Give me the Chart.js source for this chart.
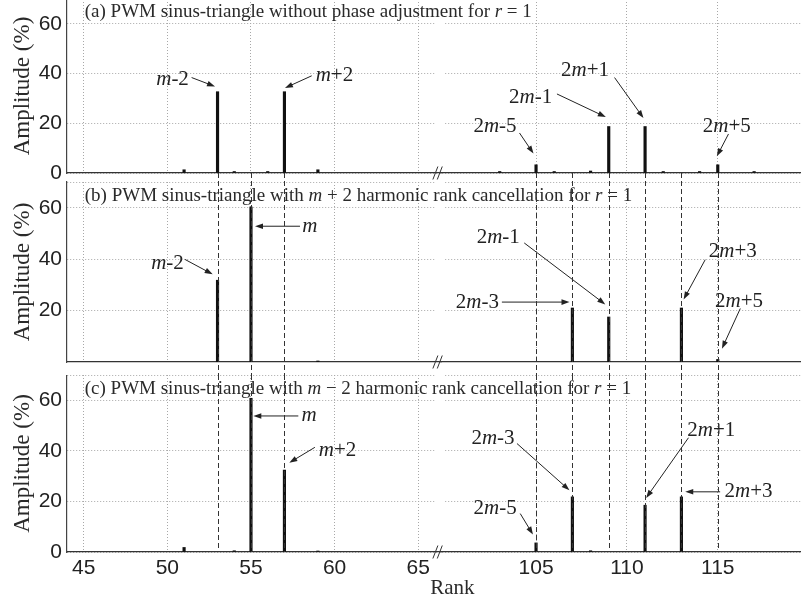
<!DOCTYPE html>
<html>
<head>
<meta charset="utf-8">
<script src="https://cdn.jsdelivr.net/npm/chart.js@4.4.1/dist/chart.umd.min.js"></script>
<style>
  html, body { margin: 0; padding: 0; background: #fff; overflow: hidden; }
  #wrap { position: relative; width: 801px; height: 604px; }
  canvas { position: absolute; left: 0; }
</style>
</head>
<body>
<div id="wrap">
  <canvas id="pa" width="801" height="190" style="top:-1px"></canvas>
  <canvas id="pb" width="801" height="202" style="top:173px"></canvas>
  <canvas id="pc" width="801" height="229" style="top:375px"></canvas>
</div>
<script>
// harmonic spectra, amplitude in % of fundamental
const ranksA_left = [51, 53, 54, 56, 57, 59];
const ampsA_left = [1.3, 32.7, 0.6, 0.6, 32.7, 1.3];
const ranksA_right = [103, 105, 106, 108, 109, 111, 112, 114, 115, 117];
const ampsA_right = [0.6, 3.3, 0.6, 0.8, 18.7, 18.7, 0.6, 0.6, 3.3, 0.6];

const ranksB_left = [53, 55, 59];
const ampsB_left = [31.8, 60.3, 0.4];
const ranksB_right = [107, 109, 113, 115];
const ampsB_right = [21.0, 17.5, 21.0, 1.0];

const ranksC_left = [51, 54, 55, 57, 59];
const ampsC_left = [1.8, 0.5, 60.8, 32.4, 0.4];
const ranksC_right = [105, 107, 108, 111, 113];
const ampsC_right = [3.6, 21.8, 0.5, 18.5, 21.8];

// dashed guide ranks
const guideLeft = [53, 55, 57];
const guideRight = [105, 107, 109, 111, 113, 115];

// tick labels
const leftTicks = [45, 50, 55, 60, 65];
const rightTicks = [105, 110, 115];
const yTicksA = [0, 20, 40, 60, 70];
const yTicksB = [20, 40, 60, 70];
const yTicksC = [0, 20, 40, 60, 70];

const titleA = '(a) PWM sinus-triangle without phase adjustment for *r* = 1';
const titleB = '(b) PWM sinus-triangle with *m* + 2 harmonic rank cancellation for *r* = 1';
const titleC = '(c) PWM sinus-triangle with *m* \u2212 2 harmonic rank cancellation for *r* = 1';

// annotation labels: text centre (tx,ty), arrow from (ax,ay) to (bx,by), in data units
const notesA = [
  {t: '*m*-2', s: 'l', tx: 50.31, ty: 37.5, ax: 51.45, ay: 38.4, bx: 52.85, by: 34.8},
  {t: '*m*+2', s: 'l', tx: 59.99, ty: 39.1, ax: 58.63, ay: 39.1, bx: 57.03, by: 34.2},
  {t: '2*m*-5', s: 'r', tx: 102.74, ty: 18.7, ax: 104.09, ay: 16.1, bx: 104.86, by: 7.8},
  {t: '2*m*-1', s: 'r', tx: 104.70, ty: 30.5, ax: 106.15, ay: 31.8, bx: 108.84, by: 22.5},
  {t: '2*m*+1', s: 'r', tx: 107.70, ty: 41.1, ax: 109.32, ay: 38.4, bx: 110.91, by: 22.1},
  {t: '2*m*+5', s: 'r', tx: 115.50, ty: 18.7, ax: 115.59, ay: 15.7, bx: 114.95, by: 6.7}
];
const notesB = [
  {t: '*m*-2', s: 'l', tx: 50.01, ty: 38.3, ax: 51.05, ay: 39.9, bx: 52.71, by: 34.1},
  {t: '*m*', s: 'l', tx: 58.52, ty: 52.6, ax: 57.93, ay: 52.8, bx: 55.24, by: 52.8},
  {t: '2*m*-3', s: 'r', tx: 101.77, ty: 23.3, ax: 103.12, ay: 23.3, bx: 106.84, by: 23.3},
  {t: '2*m*-1', s: 'r', tx: 102.92, ty: 48.4, ax: 104.35, ay: 46.3, bx: 108.81, by: 22.4},
  {t: '2*m*+3', s: 'r', tx: 115.83, ty: 42.8, ax: 114.31, ay: 39.8, bx: 113.12, by: 24.3},
  {t: '2*m*+5', s: 'r', tx: 116.17, ty: 23.7, ax: 116.24, ay: 20.8, bx: 115.23, by: 5.2}
];
const notesC = [
  {t: '*m*', s: 'l', tx: 58.47, ty: 53.8, ax: 57.83, ay: 53.8, bx: 55.14, by: 53.8},
  {t: '*m*+2', s: 'l', tx: 60.17, ty: 40.3, ax: 58.82, ay: 41.4, bx: 57.29, by: 35.3},
  {t: '2*m*-3', s: 'r', tx: 102.63, ty: 44.9, ax: 103.95, ay: 42.9, bx: 106.84, by: 24.4},
  {t: '2*m*-5', s: 'r', tx: 102.75, ty: 17.2, ax: 104.13, ay: 15.2, bx: 104.83, by: 6.9},
  {t: '2*m*+1', s: 'r', tx: 114.64, ty: 48.2, ax: 113.39, ay: 45.2, bx: 111.06, by: 21.4},
  {t: '2*m*+3', s: 'r', tx: 116.69, ty: 23.8, ax: 115.13, ay: 23.8, bx: 113.21, by: 23.8}
];

const SERIF = '"Liberation Serif", "Times New Roman", serif';
const SANS = '"Liberation Sans", Arial, sans-serif';

// draw text where *...* parts are italic
function richText(ctx, str, x, y, size, align) {
  const parts = str.split('*');
  const fonts = parts.map((p, i) => (i % 2 ? 'italic ' : '') + size + 'px ' + SERIF);
  let w = 0;
  parts.forEach((p, i) => { ctx.font = fonts[i]; w += ctx.measureText(p).width; });
  let cx = align === 'center' ? x - w / 2 : x;
  ctx.textAlign = 'left';
  ctx.textBaseline = 'middle';
  parts.forEach((p, i) => {
    ctx.font = fonts[i];
    ctx.fillText(p, cx, y);
    cx += ctx.measureText(p).width;
  });
}

function arrow(ctx, x1, y1, x2, y2) {
  const a = Math.atan2(y2 - y1, x2 - x1), L = 8, W = 2.8;
  const c = Math.cos(a), s = Math.sin(a);
  ctx.beginPath();
  ctx.moveTo(x1, y1);
  ctx.lineTo(x2 - L * 0.7 * c, y2 - L * 0.7 * s);
  ctx.stroke();
  ctx.beginPath();
  ctx.moveTo(x2, y2);
  ctx.lineTo(x2 - L * c + W * s, y2 - L * s - W * c);
  ctx.lineTo(x2 - L * c - W * s, y2 - L * s + W * c);
  ctx.closePath();
  ctx.fill();
}

const panelDecor = {
  id: 'panelDecor',
  beforeDatasetsDraw(chart) {
    // axis break: clear grid between the two rank ranges
    const {ctx, chartArea: ca, scales} = chart;
    const x0 = scales.xl.getPixelForValue(66), x1 = scales.xr.getPixelForValue(100);
    ctx.save();
    ctx.fillStyle = '#fff';
    ctx.fillRect(x0 + 1, ca.top - 1, x1 - x0 - 2, ca.bottom - ca.top);
    ctx.restore();
  },
  afterDatasetsDraw(chart, args, o) {
    const {ctx, chartArea: ca, scales} = chart;
    const xl = scales.xl, xr = scales.xr, y = scales.y;
    const X = (s, v) => (s === 'l' ? xl : xr).getPixelForValue(v);
    ctx.save();
    ctx.fillStyle = '#2a2a2a';
    richText(ctx, o.title, xl.getPixelForValue(45) + 1, y.getPixelForValue(64.6), 19, 'left');

    ctx.strokeStyle = '#222';
    ctx.fillStyle = '#222';
    ctx.lineWidth = 1;
    o.notes.forEach(n => {
      richText(ctx, n.t, X(n.s, n.tx), y.getPixelForValue(n.ty), 21, 'center');
      arrow(ctx, X(n.s, n.ax), y.getPixelForValue(n.ay), X(n.s, n.bx), y.getPixelForValue(n.by));
    });

    if (o.guides !== 'none') {
      const y0 = 0;
      const y1 = o.guides === 'above' ? ca.bottom : chart.height;
      ctx.strokeStyle = '#333';
      ctx.setLineDash([5, 3]);
      const lines = guideLeft.map(r => xl.getPixelForValue(r)).concat(guideRight.map(r => xr.getPixelForValue(r)));
      lines.forEach(px => {
        ctx.beginPath();
        ctx.moveTo(Math.round(px) + 0.5, y0);
        ctx.lineTo(Math.round(px) + 0.5, y1);
        ctx.stroke();
      });
      ctx.setLineDash([]);
    }

    // "//" break mark on the rank axis
    const gx = (xl.getPixelForValue(66) + xr.getPixelForValue(100)) / 2 - 2.5;
    ctx.strokeStyle = '#333';
    [-2.2, 2.2].forEach(d => {
      ctx.beginPath();
      ctx.moveTo(gx + d - 2.5, ca.bottom + 6.5);
      ctx.lineTo(gx + d + 2.5, ca.bottom - 6.5);
      ctx.stroke();
    });

    if (o.rank) {
      ctx.fillStyle = '#2a2a2a';
      richText(ctx, 'Rank', xr.getPixelForValue(100.4), ca.bottom + 36, 21, 'center');
    }
    ctx.restore();
  }
};

function xScale(min, max, ticks, weight, showLabels) {
  return {
    type: 'linear', position: 'bottom', stack: 'rank', stackWeight: weight,
    min: min, max: max, offset: false,
    afterBuildTicks: s => { s.ticks = ticks.map(v => ({value: v})); },
    afterFit: s => { s.height = showLabels ? 30 : 0; s.paddingLeft = 0; s.paddingRight = 0; },
    grid: {color: '#a8a8a8', lineWidth: 1, drawTicks: false, offset: false},
    border: {color: '#333', width: 1.3, dash: [1, 2]},
    ticks: {display: showLabels, autoSkip: false, maxRotation: 0, padding: 4,
      color: '#222', font: {family: SANS, size: 21}}
  };
}

function makePanel(id, p) {
  return new Chart(document.getElementById(id), {
    type: 'bar',
    data: {
      datasets: [
        {data: p.lr.map((r, i) => ({x: r, y: p.la[i]})), xAxisID: 'xl',
          backgroundColor: '#111', barThickness: 2.5, grouped: false},
        {data: p.rr.map((r, i) => ({x: r, y: p.ra[i]})), xAxisID: 'xr',
          backgroundColor: '#111', barThickness: 2.5, grouped: false}
      ]
    },
    options: {
      responsive: false,
      animation: false,
      events: [],
      layout: {padding: {top: p.top, bottom: p.bottom, left: 0, right: 0}},
      plugins: {
        legend: {display: false},
        tooltip: {enabled: false},
        panelDecor: {title: p.title, notes: p.notes, guides: p.guides, rank: p.rank}
      },
      scales: {
        xl: xScale(44, 66.36, leftTicks, 374, p.rank),
        xr: xScale(99.77, 119.58, rightTicks, 360, p.rank),
        y: {
          position: 'left', min: 0, max: 70,
          afterBuildTicks: s => { s.ticks = p.yt.map(v => ({value: v})); },
          afterFit: s => { s.width = 67; s.paddingTop = 0; s.paddingBottom = 0; },
          grid: {color: '#a8a8a8', lineWidth: 1, drawTicks: false},
          border: {color: '#444', width: 1.2, dash: [1, 2]},
          ticks: {padding: 5, color: '#222', font: {family: SANS, size: 21},
            callback: v => v === 70 ? '' : String(v)},
          title: {display: true, text: 'Amplitude (%)', color: '#2a2a2a',
            font: {family: SERIF, size: 23}, padding: {top: 9, bottom: 0}}
        }
      }
    },
    plugins: [panelDecor]
  });
}

makePanel('pa', {lr: ranksA_left, la: ampsA_left, rr: ranksA_right, ra: ampsA_right,
  yt: yTicksA, title: titleA, notes: notesA, guides: 'none', rank: false, top: 0, bottom: 16});
makePanel('pb', {lr: ranksB_left, la: ampsB_left, rr: ranksB_right, ra: ampsB_right,
  yt: yTicksB, title: titleB, notes: notesB, guides: 'full', rank: false, top: 9, bottom: 13});
makePanel('pc', {lr: ranksC_left, la: ampsC_left, rr: ranksC_right, ra: ampsC_right,
  yt: yTicksC, title: titleC, notes: notesC, guides: 'above', rank: true, top: 0, bottom: 22});
</script>
</body>
</html>
